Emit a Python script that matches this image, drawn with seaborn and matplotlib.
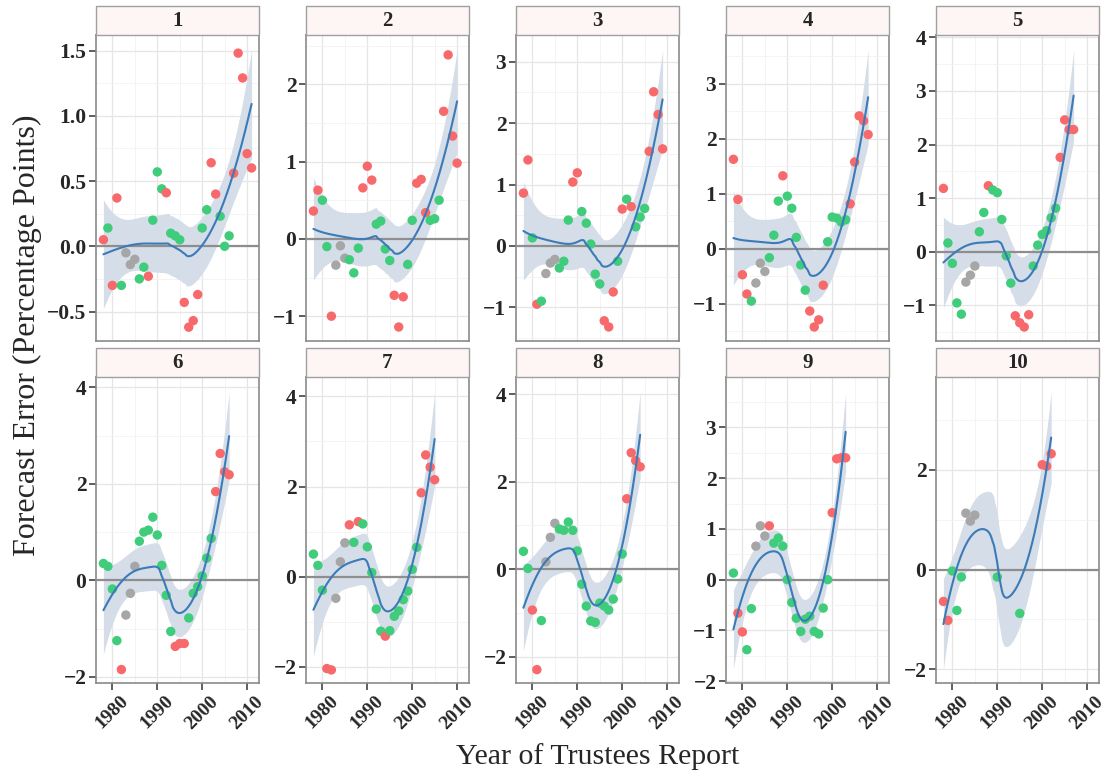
import numpy as np
import pandas as pd
import matplotlib
matplotlib.use("Agg")
import matplotlib.pyplot as plt
from matplotlib.patches import Rectangle
import seaborn as sns

# Forecast errors by projection horizon (years ahead), one value per Trustees report year.
# status codes: r = outside projected range, g = within range, n = no range published
years_h1 = list(range(1978, 2012))
err_h1 = [0.05, 0.14, -0.30, 0.37, -0.30, -0.05, -0.14, -0.10, -0.25, -0.16, -0.23, 0.20, 0.57,
          0.44, 0.41, 0.10, 0.08, 0.05, -0.43, -0.62, -0.57, -0.37, 0.14, 0.28, 0.64, 0.40, 0.23,
          0.00, 0.08, 0.56, 1.48, 1.29, 0.71, 0.60]
status_h1 = "rgrrgnnnggrgggrgggrrrrggrrgggrrrrr"

years_h2 = list(range(1978, 2011))
err_h2 = [0.36, 0.63, 0.50, -0.10, -1.00, -0.34, -0.09, -0.25, -0.27, -0.44, -0.12, 0.66, 0.94,
          0.76, 0.19, 0.23, -0.13, -0.28, -0.73, -1.14, -0.75, -0.33, 0.24, 0.72, 0.77, 0.34,
          0.24, 0.26, 0.50, 1.65, 2.38, 1.33, 0.98]
status_h2 = "rrggrnnngggrrrggggrrrggrrrgggrrrr"

years_h3 = list(range(1978, 2010))
err_h3 = [0.86, 1.40, 0.13, -0.95, -0.90, -0.45, -0.28, -0.22, -0.36, -0.25, 0.42, 1.04, 1.19,
          0.56, 0.37, 0.03, -0.46, -0.62, -1.22, -1.32, -0.75, -0.25, 0.60, 0.76, 0.64, 0.31,
          0.47, 0.61, 1.54, 2.51, 2.14, 1.58]
status_h3 = "rrgrgnnngggrrgggggrrrgrgrgggrrrr"

years_h4 = list(range(1978, 2009))
err_h4 = [1.63, 0.90, -0.47, -0.82, -0.95, -0.62, -0.26, -0.41, -0.16, 0.25, 0.87, 1.33, 0.96,
          0.74, 0.21, -0.29, -0.75, -1.13, -1.42, -1.29, -0.66, 0.13, 0.58, 0.56, 0.49, 0.53,
          0.82, 1.58, 2.42, 2.33, 2.08]
status_h4 = "rrrrgnnngggrgggggrrrrgggggrrrrr"

years_h5 = list(range(1978, 2008))
err_h5 = [1.18, 0.16, -0.22, -0.96, -1.17, -0.57, -0.44, -0.27, 0.37, 0.73, 1.23, 1.15, 1.10,
          0.60, -0.08, -0.59, -1.20, -1.33, -1.41, -1.18, -0.27, 0.12, 0.32, 0.39, 0.63, 0.81,
          1.76, 2.46, 2.28, 2.28]
status_h5 = "rggggnnnggrgggggrrrrggggggrrrr"

years_h6 = list(range(1978, 2007))
err_h6 = [0.35, 0.29, -0.18, -1.25, -1.85, -0.72, -0.27, 0.29, 0.81, 1.00, 1.04, 1.31, 0.94,
          0.31, -0.31, -1.06, -1.37, -1.31, -1.31, -0.78, -0.27, -0.13, 0.09, 0.46, 0.87, 1.84,
          2.63, 2.25, 2.19]
status_h6 = "ggggrnnnggggggggrrrggggggrrrr"

years_h7 = list(range(1978, 2006))
err_h7 = [0.50, 0.25, -0.30, -2.04, -2.07, -0.48, 0.33, 0.75, 1.15, 0.76, 1.22, 1.17, 0.66,
          0.09, -0.72, -1.21, -1.32, -1.20, -0.88, -0.76, -0.51, -0.32, 0.16, 0.65, 1.86, 2.70,
          2.43, 2.15]
status_h7 = "gggrrnnnrgrgggggrgggggggrrrr"

years_h8 = list(range(1978, 2005))
err_h8 = [0.41, 0.02, -0.93, -2.29, -1.17, 0.17, 0.73, 1.05, 0.92, 0.89, 1.08, 0.89, 0.42,
          -0.34, -0.84, -1.18, -1.21, -0.77, -0.84, -0.93, -0.68, -0.22, 0.35, 1.61, 2.66,
          2.48, 2.34]
status_h8 = "ggrrgnnngggggggggggggggrrrr"

years_h9 = list(range(1978, 2004))
err_h9 = [0.13, -0.66, -1.03, -1.38, -0.57, 0.66, 1.06, 0.86, 1.06, 0.72, 0.82, 0.66, 0.00,
          -0.45, -0.76, -1.02, -0.78, -0.72, -1.02, -1.07, -0.56, 0.00, 1.32, 2.38, 2.40, 2.40]
status_h9 = "grrggnnnrgggggggggggggrrrr"

years_h10 = [1978, 1979, 1980, 1981, 1982, 1983, 1984, 1985, 1990, 1995, 2000, 2001, 2002]
err_h10 = [-0.64, -1.02, -0.03, -0.82, -0.15, 1.13, 0.97, 1.09, -0.15, -0.88, 2.10, 2.07, 2.32]
status_h10 = "rrgggnnnggrrr"

horizons = list(range(1, 11))
years_all = [years_h1, years_h2, years_h3, years_h4, years_h5,
             years_h6, years_h7, years_h8, years_h9, years_h10]
err_all = [err_h1, err_h2, err_h3, err_h4, err_h5, err_h6, err_h7, err_h8, err_h9, err_h10]
status_all = [status_h1, status_h2, status_h3, status_h4, status_h5,
              status_h6, status_h7, status_h8, status_h9, status_h10]

# y-axis ranges and tick steps for each horizon panel
y_limits = [(-0.726, 1.619), (-1.321, 2.637), (-1.549, 3.435), (-1.675, 3.891), (-1.671, 4.046),
            (-2.129, 4.216), (-2.360, 4.430), (-2.595, 4.389), (-2.036, 3.992), (-2.275, 3.859)]
y_steps = [0.5, 1, 1, 1, 1, 2, 2, 2, 1, 2]

status_names = {"r": "Outside range", "g": "Within range", "n": "No range"}
palette = {"Outside range": "#F8696B", "Within range": "#3FCC7B", "No range": "#A6A6A6"}

rows = []
for h, yrs, errs, st in zip(horizons, years_all, err_all, status_all):
    for yr, e, s in zip(yrs, errs, st):
        rows.append({"horizon": h, "year": yr, "error": e, "status": status_names[s]})
df = pd.DataFrame(rows)


def t_quantile(df_):
    z = 1.959964
    return (z + (z**3 + z) / (4 * df_) + (5 * z**5 + 16 * z**3 + 3 * z) / (96 * df_**2)
            + (3 * z**7 + 19 * z**5 + 17 * z**3 - 15 * z) / (384 * df_**3))


def loess_fit(x, y, grid, span=0.9):
    """Local quadratic regression with tricube weights and a 95% band."""
    x = np.asarray(x, float)
    y = np.asarray(y, float)
    n = len(x)
    q = int(np.floor(n * span))

    def row(x0):
        d = np.abs(x - x0)
        h = np.sort(d)[q - 1]
        w = np.clip(1 - (d / h) ** 3, 0, None) ** 3
        X = np.column_stack([np.ones(n), x - x0, (x - x0) ** 2])
        XtW = X.T * w
        return np.linalg.solve(XtW @ X, XtW)[0]

    L = np.array([row(v) for v in x])
    resid = y - L @ y
    M = (np.eye(n) - L).T @ (np.eye(n) - L)
    d1 = np.trace(M)
    d2 = np.trace(M @ M)
    s = np.sqrt(resid @ resid / d1)
    Lg = np.array([row(v) for v in grid])
    fit = Lg @ y
    se = s * np.sqrt((Lg ** 2).sum(axis=1))
    t = t_quantile(d1 ** 2 / d2)
    return fit, fit - t * se, fit + t * se


sns.set_theme(style="white")
plt.rcParams["font.family"] = ["Liberation Serif", "DejaVu Serif"]
plt.rcParams["axes.unicode_minus"] = True

g = sns.FacetGrid(df, col="horizon", col_wrap=5, sharey=False, sharex=True,
                  height=3.07, aspect=163 / 307, despine=False)
fig = g.figure
fig.set_size_inches(11.2, 7.78)
fig.subplots_adjust(left=96 / 1120, right=1099 / 1120, top=1 - 35 / 778, bottom=1 - 683 / 778,
                    wspace=47 / 163, hspace=36 / 306)
g.set_titles("")

for i, h in enumerate(horizons):
    ax = g.axes_dict[h]
    sub = df[df["horizon"] == h]
    xs = np.linspace(sub["year"].min(), sub["year"].max(), 200)
    fit, lo, hi = loess_fit(sub["year"].values, sub["error"].values, xs)

    ax.fill_between(xs, lo, hi, color="#D5DDE8", lw=0, zorder=2)
    ax.axhline(0, color="#8E8E8E", lw=1.6, zorder=3)
    sns.scatterplot(data=sub, x="year", y="error", hue="status", palette=palette,
                    s=46, edgecolor="none", linewidth=0, legend=False, ax=ax, zorder=4)
    sns.lineplot(x=xs, y=fit, color="#3B7BB8", lw=1.5, ax=ax, zorder=5)

    lo_lim, hi_lim = y_limits[i]
    step = y_steps[i]
    major = np.arange(np.ceil(lo_lim / step) * step, hi_lim + 1e-9, step)
    minor = np.arange(np.ceil(lo_lim / (step / 2)) * (step / 2), hi_lim + 1e-9, step / 2)
    ax.set_ylim(lo_lim, hi_lim)
    ax.set_xlim(1976.35, 2012.65)
    ax.set_yticks(major)
    ax.set_yticks(minor, minor=True)
    ax.set_xticks([1980, 1990, 2000, 2010])
    ax.set_xticks([1985, 1995, 2005], minor=True)
    if step == 0.5:
        ax.set_yticklabels([f"{v:.1f}".replace("-", "\u2212") for v in major])
    else:
        ax.set_yticklabels([f"{int(round(v))}".replace("-", "\u2212") for v in major])

    ax.grid(True, which="major", color="#E6E6E6", lw=0.9, zorder=0)
    ax.grid(True, which="minor", color="#F3F3F3", lw=0.6, zorder=0)
    ax.set_axisbelow(True)
    for sp in ax.spines.values():
        sp.set_color("#8A8A8A")
        sp.set_linewidth(1.2)

    ax.tick_params(axis="y", which="major", length=5, width=1.1, color="#333333",
                   labelsize=15.5, pad=2, left=True)
    ax.tick_params(which="minor", length=0)
    if i >= 5:
        ax.tick_params(axis="x", which="major", length=5, width=1.1, color="#333333",
                       labelsize=14, pad=2, bottom=True, labelbottom=True)
        for lab in ax.get_xticklabels():
            lab.set_rotation(45)
            lab.set_ha("center")
            lab.set_va("top")
    else:
        ax.tick_params(axis="x", which="major", length=0, labelbottom=False)
    for lab in ax.get_yticklabels() + ax.get_xticklabels():
        lab.set_fontweight("bold")
    ax.set_xlabel("")
    ax.set_ylabel("")

    # facet strip
    strip_h = 29 / 307
    ax.add_patch(Rectangle((0, 1), 1, strip_h, transform=ax.transAxes, clip_on=False,
                           facecolor="#FDF6F5", edgecolor="#A0A0A0", lw=1.0, zorder=10))
    ax.text(0.5, 1 + strip_h / 2, str(h), transform=ax.transAxes, ha="center", va="center",
            fontsize=15, fontweight="bold", zorder=11)

fig.text(27 / 1120, 1 - 335 / 778, "Forecast Error (Percentage Points)", rotation=90,
         ha="center", va="center", fontsize=23)
fig.text(598 / 1120, 1 - 757 / 778, "Year of Trustees Report", ha="center", va="center",
         fontsize=21.5)

fig.savefig("out.png", dpi=100)
